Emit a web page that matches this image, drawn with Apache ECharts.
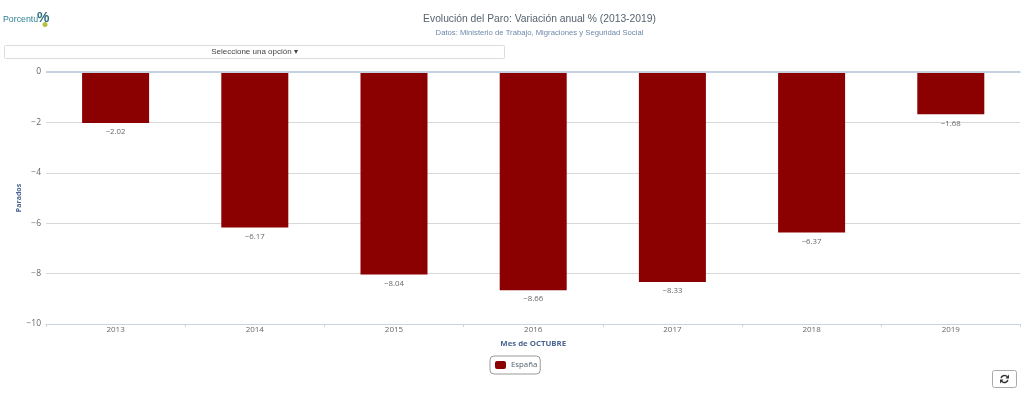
<!DOCTYPE html>
<html>
<head>
<meta charset="utf-8">
<title>Evolución del Paro</title>
<style>
html, body { margin: 0; padding: 0; background: #fff; }
#chart { width: 1024px; height: 394px; }
</style>
<script src="https://cdn.jsdelivr.net/npm/echarts@6/dist/echarts.min.js"></script>
</head>
<body>
<div id="chart"></div>
<script>
var years = ['2013', '2014', '2015', '2016', '2017', '2018', '2019'];
var espana = [-2.02, -6.17, -8.04, -8.66, -8.33, -6.37, -1.68];
var yTicks = [-10, -8, -6, -4, -2, 0];

var barColor = '#8b0000';
var labelFont = '"Open Sans", sans-serif';

var chart = echarts.init(document.getElementById('chart'));
chart.setOption({
	animation: false,
	backgroundColor: '#fff',
	title: {
		text: 'Evolución del Paro: Variación anual % (2013-2019)',
		subtext: 'Datos: Ministerio de Trabajo, Migraciones y Seguridad Social',
		left: 534.5,
		top: 9,
		textAlign: 'center',
		itemGap: 5,
		textStyle: { color: '#56626e', fontSize: 10.3, fontWeight: 'normal', fontFamily: 'Liberation Sans' },
		subtextStyle: { color: '#6d89ab', fontSize: 7.7, fontFamily: 'Liberation Sans' }
	},
	legend: {
		left: 490,
		top: 356,
		padding: [5, 3, 5, 5],
		borderColor: '#999',
		borderWidth: 1,
		borderRadius: 4,
		itemWidth: 11,
		itemHeight: 8,
		itemGap: 4,
		icon: 'roundRect',
		textStyle: { color: '#4f5f6e', fontSize: 7.8, fontFamily: labelFont },
		data: ['España']
	},
	grid: { left: 46, right: 3.6, top: 72, bottom: 70, outerBoundsMode: 'none' },
	xAxis: {
		type: 'category',
		data: years,
		name: 'Mes de OCTUBRE',
		nameLocation: 'middle',
		nameGap: 16,
		nameTextStyle: { color: '#4a6590', fontSize: 7.8, fontWeight: 'bold', fontFamily: labelFont },
		position: 'bottom',
		axisLine: { onZero: false, lineStyle: { color: '#c8d6e2', width: 1 } },
		axisTick: { show: true, alignWithLabel: false, length: 3, lineStyle: { color: '#c8d6e2' } },
		axisLabel: { color: '#666', fontSize: 8, margin: 2, fontFamily: labelFont }
	},
	yAxis: {
		type: 'value',
		min: yTicks[0],
		max: yTicks[yTicks.length - 1],
		interval: 2,
		name: 'Parados',
		nameLocation: 'middle',
		nameMoveOverlap: false,
		nameGap: 24,
		nameTextStyle: { color: '#4a6590', fontSize: 7, fontWeight: 'bold', fontFamily: labelFont },
		axisLine: { show: false },
		axisTick: { show: false },
		splitLine: { lineStyle: { color: '#d8d8d8', width: 1 } },
		axisLabel: {
			color: '#666',
			fontSize: 8.5,
			margin: 5,
			fontFamily: labelFont,
			formatter: function (v) { return v < 0 ? '−' + Math.abs(v) : '' + v; }
		}
	},
	series: [{
		name: 'España',
		type: 'bar',
		data: espana,
		barWidth: 67,
		itemStyle: { color: barColor },
		label: {
			show: true,
			position: 'bottom',
			distance: 5,
			color: '#666',
			fontSize: 7.8,
			fontFamily: labelFont,
			formatter: function (p) { return '−' + Math.abs(p.value).toFixed(2); }
		},
		markLine: {
			silent: true,
			symbol: 'none',
			label: { show: false },
			lineStyle: { color: '#c3d2de', width: 2, type: 'solid' },
			data: [{ yAxis: 0 }]
		}
	}],
	graphic: [
		// logo
		{ type: 'text', left: 3, top: 15, style: { text: 'Porcentu', fill: '#2c7f93', font: '8.8px "Liberation Sans"' } },
		{ type: 'text', left: 37, top: 11, style: { text: '%', fill: '#2f6f7c', font: 'bold 14px "Liberation Sans"' } },
		{ type: 'circle', shape: { cx: 45, cy: 24.5, r: 2.5 }, style: { fill: '#b5c23c' } },
		// selector
		{ type: 'rect', shape: { x: 4.5, y: 45.5, width: 500, height: 13, r: 1 }, style: { fill: '#fff', stroke: '#dcdcdc' } },
		{ type: 'text', x: 254.5, y: 52, style: { text: 'Seleccione una opción ▾', fill: '#444', font: '8px "Liberation Sans"', align: 'center', verticalAlign: 'middle' } },
		// refresh button
		{ type: 'rect', shape: { x: 992.5, y: 370.5, width: 24, height: 17, r: 2 }, style: { fill: '#fff', stroke: '#aaa' } },
		{ type: 'arc', shape: { cx: 1004.5, cy: 379, r: 3.5, startAngle: 3.4, endAngle: 5.6 }, style: { fill: null, stroke: '#333', lineWidth: 1.5 } },
		{ type: 'arc', shape: { cx: 1004.5, cy: 379, r: 3.5, startAngle: 0.3, endAngle: 2.5 }, style: { fill: null, stroke: '#333', lineWidth: 1.5 } },
		{ type: 'polygon', shape: { points: [[1009, 374.5], [1009, 378.5], [1005.5, 378.5]] }, style: { fill: '#333' } },
		{ type: 'polygon', shape: { points: [[1000, 383.5], [1000, 379.5], [1003.5, 379.5]] }, style: { fill: '#333' } }
	]
});
</script>
</body>
</html>
